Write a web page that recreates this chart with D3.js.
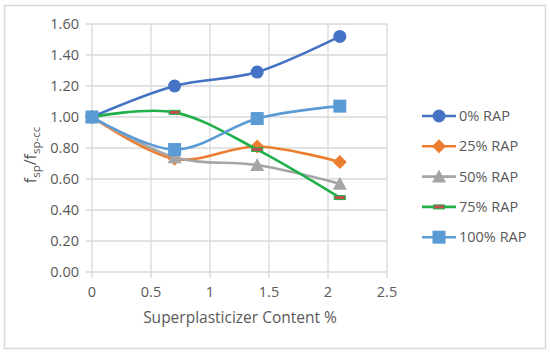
<!DOCTYPE html>
<meta charset="utf-8">
<head>
<style>
body { margin: 0; background: #fff; }
text { font-family: "Open Sans", sans-serif; fill: #595959; }
.grid line { stroke: #d9d9d9; stroke-width: 1.3; }
.series path.line { fill: none; stroke-width: 2.6; }
</style>
</head>
<body>
<svg width="550" height="354"></svg>
<script src="https://d3js.org/d3.v7.min.js"></script>
<script>

var xValues = [0, 0.7, 1.4, 2.1];
var seriesNames = ["0% RAP", "25% RAP", "50% RAP", "75% RAP", "100% RAP"];
var rap0 = [1.00, 1.20, 1.29, 1.52];
var rap25 = [1.00, 0.73, 0.81, 0.71];
var rap50 = [1.00, 0.74, 0.69, 0.57];
var rap75 = [1.00, 1.03, 0.79, 0.48];
var rap100 = [1.00, 0.79, 0.99, 1.07];
var xTicks = [0, 0.5, 1, 1.5, 2, 2.5];
var yTicks = [0, 0.2, 0.4, 0.6, 0.8, 1.0, 1.2, 1.4, 1.6];

var colors = ["#4472c4", "#ed7d31", "#a5a5a5", "#1fb04a", "#5b9bd5"];
var markers = ["circle", "diamond", "triangle", "dash", "square"];
var values = [rap0, rap25, rap50, rap75, rap100];

var svg = d3.select("svg");

// chart border
svg.append("rect")
    .attr("x", 4.5).attr("y", 5.5)
    .attr("width", 541).attr("height", 343)
    .attr("fill", "none")
    .attr("stroke", "#d9d9d9")
    .attr("stroke-width", 1.5);

var x = d3.scaleLinear().domain([0, 2.5]).range([92, 387]);
var y = d3.scaleLinear().domain([0, 1.6]).range([272, 24]);

var grid = svg.append("g").attr("class", "grid");
grid.selectAll(".h").data(yTicks).enter().append("line")
    .attr("x1", x(0) - 6).attr("x2", x(2.5))
    .attr("y1", function(d) { return y(d); })
    .attr("y2", function(d) { return y(d); });
grid.selectAll(".v").data(xTicks).enter().append("line")
    .attr("x1", function(d) { return x(d); })
    .attr("x2", function(d) { return x(d); })
    .attr("y1", y(1.6)).attr("y2", y(0) + 6);

svg.selectAll(".ytick").data(yTicks).enter().append("text")
    .attr("x", 79)
    .attr("y", function(d) { return y(d) + 5; })
    .attr("text-anchor", "end")
    .style("font-size", "14.5px")
    .text(function(d) { return d3.format(".2f")(d); });

svg.selectAll(".xtick").data(xTicks).enter().append("text")
    .attr("x", function(d) { return x(d); })
    .attr("y", 297)
    .attr("text-anchor", "middle")
    .style("font-size", "14.5px")
    .text(function(d) { return d; });

svg.append("text")
    .attr("x", 240).attr("y", 323)
    .attr("text-anchor", "middle")
    .style("font-size", "15.5px")
    .text("Superplasticizer Content %");

var yt = svg.append("text")
    .attr("transform", "translate(36,155) rotate(-90)")
    .attr("text-anchor", "middle")
    .style("font-size", "16px");
yt.append("tspan").text("f");
yt.append("tspan").attr("dy", 4).style("font-size", "11.5px").text("sp");
yt.append("tspan").attr("dy", -4).text("/f");
yt.append("tspan").attr("dy", 4).style("font-size", "11.5px").text("sp-cc");

var line = d3.line()
    .x(function(d, i) { return x(xValues[i]); })
    .y(function(d) { return y(d); })
    .curve(d3.curveCatmullRom.alpha(0));

function drawMarker(g, type, color) {
  if (type === "circle") {
    g.append("circle").attr("r", 6.5).attr("fill", color);
  } else if (type === "square") {
    g.append("rect").attr("x", -6.5).attr("y", -6.5).attr("width", 13).attr("height", 13).attr("fill", color);
  } else if (type === "diamond") {
    g.append("path").attr("d", "M0,-7L7,0L0,7L-7,0Z").attr("fill", color);
  } else if (type === "triangle") {
    g.append("path").attr("d", "M0,-7L7,6L-7,6Z").attr("fill", color);
  } else if (type === "dash") {
    g.append("rect").attr("x", -5.5).attr("y", -2).attr("width", 11).attr("height", 4)
      .attr("fill", "#c0504d").attr("stroke", color).attr("stroke-width", 1);
  }
}

values.forEach(function(vals, s) {
  var g = svg.append("g").attr("class", "series");
  g.append("path").attr("class", "line")
      .attr("d", line(vals))
      .attr("stroke", colors[s]);
  vals.forEach(function(v, i) {
    var m = g.append("g").attr("transform", "translate(" + x(xValues[i]) + "," + y(v) + ")");
    drawMarker(m, markers[s], colors[s]);
  });
});

// legend
var legend = svg.append("g");
seriesNames.forEach(function(name, s) {
  var ly = 116 + s * 30.3;
  legend.append("line")
      .attr("x1", 422).attr("x2", 456)
      .attr("y1", ly).attr("y2", ly)
      .attr("stroke", colors[s]).attr("stroke-width", 2.6);
  var m = legend.append("g").attr("transform", "translate(439," + ly + ")");
  drawMarker(m, markers[s], colors[s]);
  legend.append("text")
      .attr("x", 459).attr("y", ly + 5)
      .style("font-size", "14.5px")
      .text(name);
});

</script>
</body>
</html>
